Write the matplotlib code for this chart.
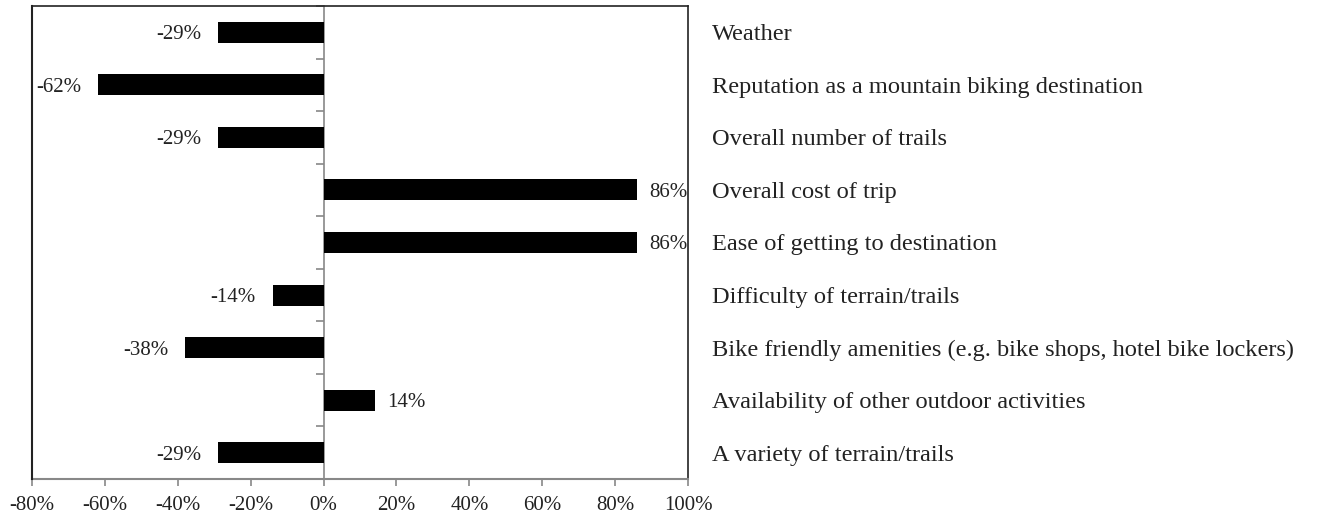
import matplotlib
matplotlib.use("Agg")
import matplotlib.pyplot as plt
import matplotlib.transforms as mtransforms
import numpy as np

categories = [
    "Weather",
    "Reputation as a mountain biking destination",
    "Overall number of trails",
    "Overall cost of trip",
    "Ease of getting to destination",
    "Difficulty of terrain/trails",
    "Bike friendly amenities (e.g. bike shops, hotel bike lockers)",
    "Availability of other outdoor activities",
    "A variety of terrain/trails",
]
values = [-29, -62, -29, 86, 86, -14, -38, 14, -29]
xticks = [-80, -60, -40, -20, 0, 20, 40, 60, 80, 100]

plt.rcParams['font.family'] = ['Liberation Serif', 'DejaVu Serif']

fig = plt.figure(figsize=(13.26, 5.2), dpi=100)
ax = fig.add_axes([32/1326, 1-479/520, 656/1326, 473/520])

n = len(categories)
ypos = np.arange(n)
ax.barh(ypos, values, height=0.4, color='black', edgecolor='none', zorder=3)
ax.set_ylim(n - 0.5, -0.5)
ax.set_xlim(-80, 100)

# value labels
for y, v in zip(ypos, values):
    if v < 0:
        ax.annotate(f"{v}%", (v, y), xytext=(-12, 0), textcoords='offset points',
                    ha='right', va='center_baseline', fontsize=15, color='#222222')
    else:
        ax.annotate(f"{v}%", (v, y), xytext=(9, 0), textcoords='offset points',
                    ha='left', va='center_baseline', fontsize=15, color='#222222')

# category labels at right
trans = mtransforms.blended_transform_factory(ax.transAxes, ax.transData)
for y, c in zip(ypos, categories):
    ax.text(1.037, y, c, transform=trans, ha='left', va='center_baseline',
            fontsize=17.6, color='#222222')

# axes styling
ax.set_xticks(xticks)
ax.set_xticklabels([f"{t}%" for t in xticks], fontsize=15, color='#222222')
ax.tick_params(axis='x', direction='out', length=5, color='#888888', width=1.2, pad=7)

ax.spines['left'].set_position(('data', 0))
ax.spines['left'].set_color('#888888')
ax.spines['left'].set_linewidth(1.2)
ax.spines['bottom'].set_color('#888888')
ax.spines['bottom'].set_linewidth(1.5)
ax.spines['top'].set_color('#222222')
ax.spines['top'].set_linewidth(1.2)
ax.spines['right'].set_color('#222222')
ax.spines['right'].set_linewidth(1.2)

ax.set_yticks(np.arange(n + 1) - 0.5)
ax.set_yticklabels([])
ax.tick_params(axis='y', direction='out', length=6, color='#888888', width=1.2)

# black left border of the plot box
ax.axvline(-80, color='#222222', linewidth=1.5, zorder=4, clip_on=False)

fig.savefig("out.png", dpi=100)
